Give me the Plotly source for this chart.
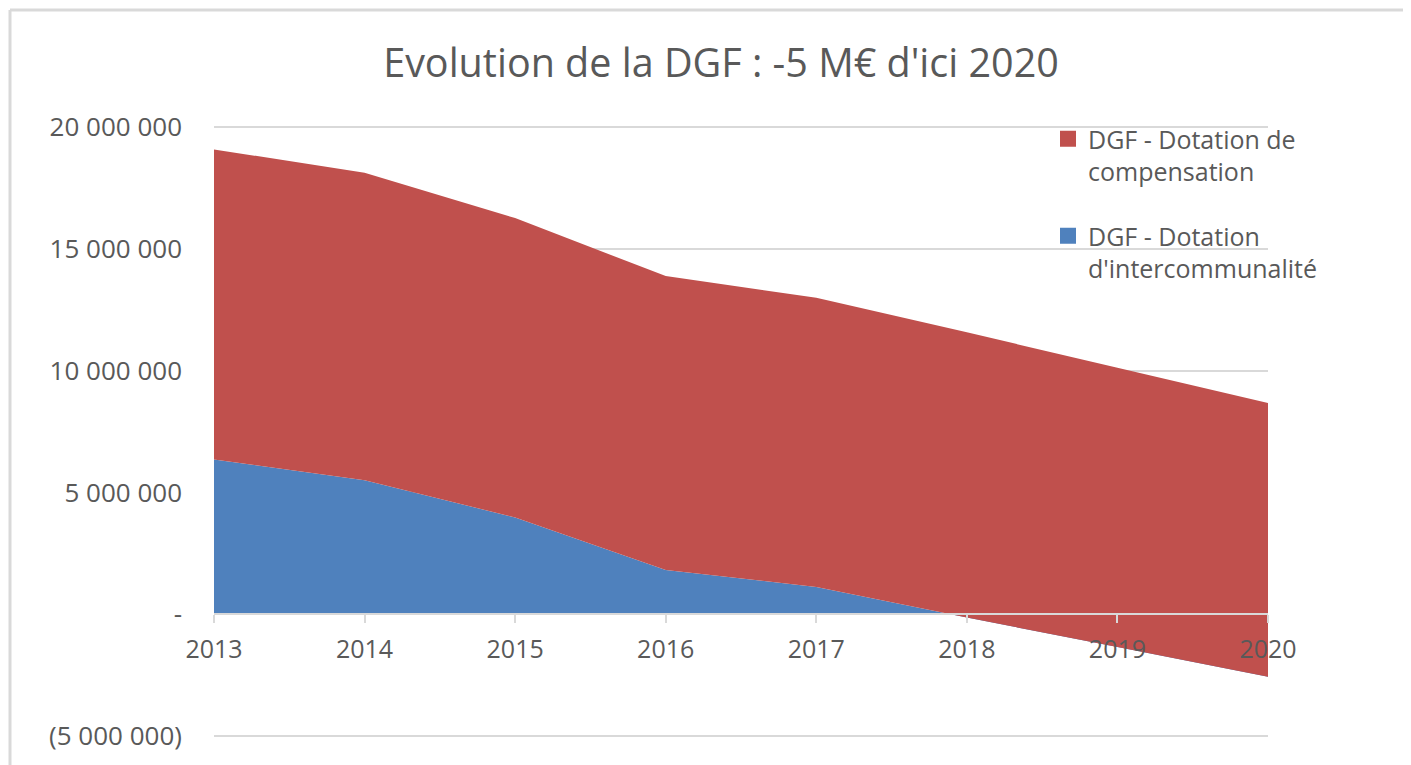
import plotly.graph_objects as go

years = [2013, 2014, 2015, 2016, 2017, 2018, 2019, 2020]
intercommunalite = [6.35e6, 5.50e6, 3.97e6, 1.81e6, 1.12e6, -0.14e6, -1.35e6, -2.57e6]
compensation = [12.73e6, 12.62e6, 12.29e6, 12.07e6, 11.87e6, 11.71e6, 11.47e6, 11.24e6]

name_comp = "DGF - Dotation de<br>compensation"
name_inter = "DGF - Dotation<br>d'intercommunalité"

ytick_vals = [-5e6, 0, 5e6, 10e6, 15e6, 20e6]
ytick_text = ["(5 000 000)", "-", "5 000 000", "10 000 000", "15 000 000", "20 000 000"]

RED = "#C0504D"
BLUE = "#4F81BD"
TXT = "#595959"
GRID = "#D9D9D9"
FONT = "Open Sans"

W, H = 1411, 765
OFF = 8  # page body offset
# desired plot box (page px): x 214..1268, y(20M)=127, y(-5M)=736
x_left, x_right = 214 - OFF, 1268 - OFF
y_top_val, y_bot_val = 127 - OFF, 736 - OFF
px_per_unit = (y_bot_val - y_top_val) / 25e6
pad = 3  # px of padding so edge gridlines are drawn
ymin = -5e6 - pad / px_per_unit
ymax = 20e6 + pad / px_per_unit
L, R = x_left, W - x_right
T = y_top_val - pad
B = H - (y_bot_val + pad)
pw, ph = W - L - R, H - T - B


def px_x(p):
    return (p - OFF - L) / pw


def px_y(p):
    return (H - B - (p - OFF)) / ph


fig = go.Figure()
fig.add_trace(go.Scatter(x=years, y=intercommunalite, stackgroup="s", mode="none",
                         fillcolor=BLUE, showlegend=False, hoverinfo="skip"))
fig.add_trace(go.Scatter(x=years, y=compensation, stackgroup="s", mode="none",
                         fillcolor=RED, showlegend=False, hoverinfo="skip"))
# legend entries
fig.add_trace(go.Scatter(x=[None], y=[None], mode="markers", name=name_comp, legendgroup="a",
                         marker=dict(symbol="square", size=17, color=RED)))
fig.add_trace(go.Scatter(x=[None], y=[None], mode="markers", name=name_inter, legendgroup="b",
                         marker=dict(symbol="square", size=17, color=BLUE)))

# chart border (top + left visible)
fig.add_shape(type="line", xref="paper", yref="paper", x0=px_x(10), x1=px_x(W + 40),
              y0=px_y(10), y1=px_y(10), line=dict(color=GRID, width=3))
fig.add_shape(type="line", xref="paper", yref="paper", x0=px_x(10), x1=px_x(10),
              y0=px_y(10), y1=px_y(H + 40), line=dict(color=GRID, width=3))

fig.update_layout(
    width=W, height=H,
    margin=dict(l=L, r=R, t=T, b=B, pad=0),
    paper_bgcolor="white", plot_bgcolor="white",
    font=dict(family=FONT, color=TXT, size=25),
    title=dict(text="Evolution de la DGF : -5 M€ d'ici 2020", x=(721 - OFF) / W, xref="container",
               xanchor="center", y=1 - (63 - OFF) / H, yref="container", yanchor="middle",
               font=dict(family=FONT, size=39.5, color=TXT)),
    xaxis=dict(range=[years[0], years[-1]], tickvals=years, ticktext=[str(y) for y in years],
               anchor="free", position=(0 - ymin) / (ymax - ymin),
               showline=True, linecolor=GRID, linewidth=1.5,
               ticks="outside", ticklen=8, tickcolor=GRID, tickwidth=1.5,
               showgrid=False, zeroline=False, layer="above traces",
               tickfont=dict(size=25, color=TXT), ticklabelstandoff=5),
    yaxis=dict(range=[ymin, ymax], tickvals=ytick_vals, ticktext=ytick_text,
               showgrid=True, gridcolor=GRID, gridwidth=1.5, zeroline=False,
               showline=False, ticks="", tickfont=dict(size=26, color=TXT),
               ticklabelstandoff=31, layer="below traces"),
    legend=dict(x=px_x(1048), y=px_y(116), xanchor="left", yanchor="top",
                traceorder="grouped", tracegroupgap=29, valign="top",
                itemwidth=30, font=dict(size=25, color=TXT), bgcolor="rgba(0,0,0,0)"),
    showlegend=True,
)

fig.write_html("out.html")
